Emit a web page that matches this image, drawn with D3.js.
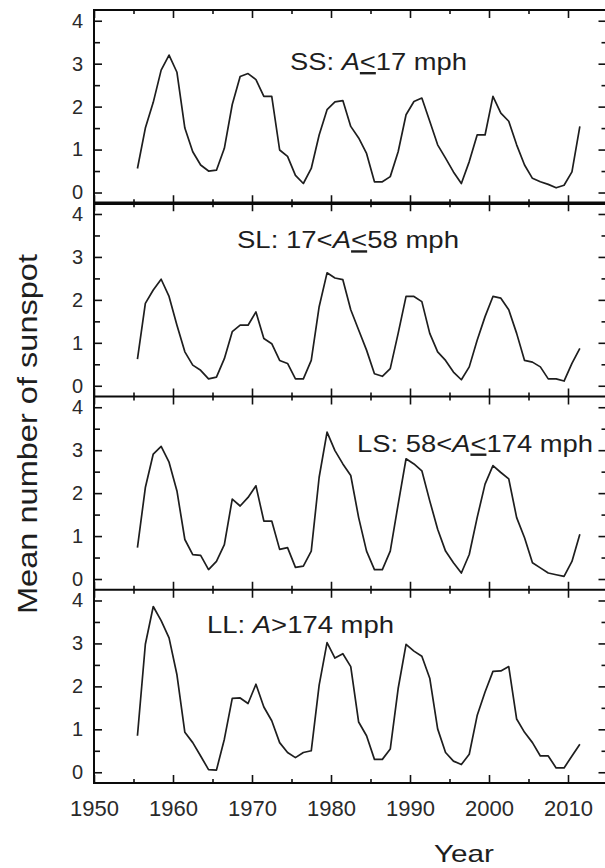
<!DOCTYPE html>
<html lang="en">
<head>
  <meta charset="UTF-8">
  <title>Mean number of sunspot</title>
  <style>
    body {
      margin: 0;
      padding: 0;
      background-color: #ffffff;
    }

    svg {
      display: block;
      font-family: 'Liberation Sans', Arial, sans-serif;
    }

    .tick text {
      fill: #2a2a2a;
    }

    .tick line {
      stroke: #111;
      stroke-width: 1.6px;
    }

    .series {
      fill: none;
      stroke: #1e1e1e;
      stroke-width: 1.7px;
      stroke-linejoin: round;
    }

    .frame {
      stroke: #0a0a0a;
      fill: none;
    }

    .title {
      fill: #1e1e1e;
      font-size: 24px;
    }
  </style>
</head>
<body>
  <svg width="605" height="868"></svg>

  <script src="https://d3js.org/d3.v7.min.js"></script>
  <script>
    // annual means, 1955 .. 2011
    const years = d3.range(1955, 2012);

    const ssValues = [0.56, 1.5, 2.1, 2.85, 3.2, 2.8, 1.5, 0.95, 0.64, 0.5,
      0.52, 1.03, 2.05, 2.7, 2.77, 2.63, 2.24, 2.24, 0.99, 0.84,
      0.4, 0.21, 0.56, 1.34, 1.93, 2.11, 2.14, 1.54, 1.27, 0.91,
      0.25, 0.25, 0.37, 0.95, 1.81, 2.12, 2.2, 1.66, 1.11, 0.8,
      0.48, 0.21, 0.72, 1.34, 1.34, 2.24, 1.85, 1.66, 1.11, 0.64,
      0.33, 0.25, 0.19, 0.11, 0.17, 0.48, 1.54];

    const slValues = [0.62, 1.92, 2.23, 2.48, 2.08, 1.41, 0.79, 0.48, 0.36, 0.16,
      0.2, 0.63, 1.26, 1.41, 1.41, 1.72, 1.1, 0.98, 0.59, 0.52,
      0.16, 0.16, 0.59, 1.84, 2.63, 2.51, 2.47, 1.77, 1.3, 0.83,
      0.28, 0.22, 0.4, 1.22, 2.08, 2.08, 1.96, 1.22, 0.79, 0.59,
      0.32, 0.14, 0.44, 1.06, 1.61, 2.08, 2.04, 1.77, 1.22, 0.59,
      0.55, 0.44, 0.16, 0.16, 0.11, 0.52, 0.87];

    const lsValues = [0.73, 2.13, 2.91, 3.09, 2.72, 2.05, 0.92, 0.57, 0.55, 0.22,
      0.41, 0.8, 1.86, 1.7, 1.9, 2.17, 1.35, 1.35, 0.69, 0.73,
      0.27, 0.3, 0.65, 2.37, 3.42, 2.99, 2.68, 2.41, 1.43, 0.65,
      0.22, 0.22, 0.65, 1.74, 2.8, 2.68, 2.52, 1.82, 1.16, 0.65,
      0.38, 0.14, 0.57, 1.43, 2.21, 2.64, 2.48, 2.33, 1.43, 0.96,
      0.38, 0.26, 0.14, 0.1, 0.06, 0.41, 1.04];

    const llValues = [0.85, 2.98, 3.86, 3.53, 3.13, 2.27, 0.93, 0.69, 0.38, 0.06,
      0.05, 0.77, 1.72, 1.73, 1.6, 2.05, 1.52, 1.2, 0.69, 0.46,
      0.34, 0.46, 0.5, 2.03, 3.02, 2.66, 2.76, 2.46, 1.17, 0.85,
      0.3, 0.3, 0.54, 1.95, 2.98, 2.82, 2.7, 2.19, 1.01, 0.46,
      0.26, 0.18, 0.42, 1.32, 1.87, 2.35, 2.36, 2.46, 1.24, 0.93,
      0.69, 0.38, 0.38, 0.1, 0.1, 0.38, 0.65];

    // title parts: [prefix, italic A, relation (underlined for <=), suffix]
    const panels = [
      { name: "SS", values: ssValues, label: ["SS: ", "A", "<", "17 mph"], under: true, tx: 290, ty: 60, tl: 177 },
      { name: "SL", values: slValues, label: ["SL: 17<", "A", "<", "58 mph"], under: true, tx: 237, ty: 45, tl: 222 },
      { name: "LS", values: lsValues, label: ["LS: 58<", "A", "<", "174 mph"], under: true, tx: 357, ty: 55, tl: 236 },
      { name: "LL", values: llValues, label: ["LL: ", "A", ">", "174 mph"], under: false, tx: 207, ty: 43, tl: 187 },
    ];

    const yearTicks = d3.range(1950, 2011, 10);
    const yearMinor = d3.range(1955, 2015, 10);
    const yTicks = [0, 1, 2, 3, 4];
    const yMinor = [0.5, 1.5, 2.5, 3.5];

    const svg = d3.select("svg");
    const left = 94, right = 607.5;
    const top0 = 10, panelH = 193.25;

    const x = d3.scaleLinear().domain([1950, 2015]).range([left, right]);

    panels.forEach((p, i) => {
      const top = top0 + i * panelH;
      const bottom = top + panelH;
      const y = d3.scaleLinear().domain([-0.25, 4.25]).range([bottom, top]);
      const g = svg.append("g").attr("class", "panel " + p.name);

      // left axis, ticks inward
      g.append("g")
        .attr("transform", `translate(${left},0)`)
        .call(d3.axisLeft(y).tickValues(yTicks).tickSize(-8).tickPadding(11).tickFormat(d3.format("d")))
        .call((a) => a.select(".domain").remove())
        .call((a) => a.selectAll("text").style("font-size", "20px").attr("font-family", null));

      g.append("g")
        .attr("transform", `translate(${left},0)`)
        .call(d3.axisLeft(y).tickValues(yMinor).tickSize(-6).tickFormat(""))
        .call((a) => a.select(".domain").remove());

      // right axis
      g.append("g")
        .attr("transform", `translate(${right},0)`)
        .call(d3.axisRight(y).tickValues(yTicks).tickSize(-9).tickFormat(""))
        .call((a) => a.select(".domain").remove());

      g.append("g")
        .attr("transform", `translate(${right},0)`)
        .call(d3.axisRight(y).tickValues(yMinor).tickSize(-6).tickFormat(""))
        .call((a) => a.select(".domain").remove());

      // top and bottom ticks
      [[d3.axisTop, top], [d3.axisBottom, bottom]].forEach(([axisFn, yy]) => {
        g.append("g")
          .attr("transform", `translate(0,${yy})`)
          .call(axisFn(x).tickValues(yearTicks).tickSize(-8).tickFormat(""))
          .call((a) => a.select(".domain").remove());
        g.append("g")
          .attr("transform", `translate(0,${yy})`)
          .call(axisFn(x).tickValues(yearMinor).tickSize(-4).tickFormat(""))
          .call((a) => a.select(".domain").remove());
      });

      if (i === panels.length - 1) {
        g.append("g")
          .attr("transform", `translate(0,${bottom})`)
          .call(d3.axisBottom(x).tickValues(yearTicks).tickSize(0).tickPadding(17).tickFormat(d3.format("d")))
          .call((a) => a.select(".domain").remove())
          .call((a) => a.selectAll("text").style("font-size", "22px").attr("font-family", null));
      }

      // the series
      const line = d3.line()
        .x((d) => x(d[0] + 0.5)) // annual means plotted at mid-year
        .y((d) => y(d[1]));

      g.append("path")
        .attr("class", "series")
        .attr("d", line(d3.zip(years, p.values)));

      // panel title
      const t = g.append("text")
        .attr("class", "title")
        .attr("x", p.tx)
        .attr("y", top + p.ty)
        .attr("textLength", p.tl)
        .attr("lengthAdjust", "spacingAndGlyphs");
      t.append("tspan").text(p.label[0]);
      t.append("tspan").attr("font-style", "italic").text(p.label[1]);
      t.append("tspan")
        .style("text-decoration", p.under ? "underline" : "none")
        .text(p.label[2]);
      t.append("tspan").text(p.label[3]);
    });

    // frame and dividers
    const bottomAll = top0 + panels.length * panelH;
    svg.append("rect")
      .attr("class", "frame")
      .attr("x", left)
      .attr("y", top0)
      .attr("width", right - left)
      .attr("height", bottomAll - top0)
      .attr("stroke-width", 2);

    panels.slice(1).forEach((p, i) => {
      const yy = top0 + (i + 1) * panelH;
      svg.append("line")
        .attr("class", "frame")
        .attr("x1", left)
        .attr("x2", right)
        .attr("y1", yy)
        .attr("y2", yy)
        .attr("stroke-width", i === 0 ? 3.5 : 2);
    });

    // axis titles
    svg.append("text")
      .attr("transform", "translate(37,434) rotate(-90)")
      .attr("text-anchor", "middle")
      .attr("textLength", 360)
      .attr("lengthAdjust", "spacingAndGlyphs")
      .style("font-size", "27px")
      .style("fill", "#1e1e1e")
      .text("Mean number of sunspot");

    svg.append("text")
      .attr("x", 464)
      .attr("y", 862)
      .attr("text-anchor", "middle")
      .attr("textLength", 60)
      .attr("lengthAdjust", "spacingAndGlyphs")
      .style("font-size", "24px")
      .style("fill", "#1e1e1e")
      .text("Year");
  </script>
</body>
</html>
